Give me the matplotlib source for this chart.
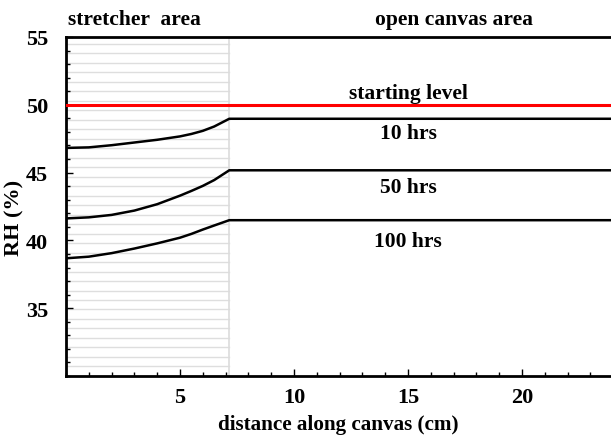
import numpy as np
import matplotlib
matplotlib.use("Agg")
import matplotlib.pyplot as plt
from matplotlib.ticker import MultipleLocator

# ---- data ----
x_stretch = [0.0, 1.0, 2.0, 3.0, 4.0, 5.0, 5.5, 6.0, 6.5, 7.16]
rh_10h = [46.82, 46.86, 47.02, 47.22, 47.42, 47.67, 47.85, 48.08, 48.40, 48.97]
rh_50h = [41.62, 41.70, 41.88, 42.20, 42.67, 43.30, 43.65, 44.02, 44.45, 45.17]
rh_100h = [38.68, 38.80, 39.06, 39.40, 39.78, 40.20, 40.48, 40.80, 41.10, 41.49]
x_end = 24.0
starting_level = 50.0
stretcher_edge = 7.16
series_labels = ["10 hrs", "50 hrs", "100 hrs"]
label_y = [47.9, 43.95, 39.95]

plt.rcParams['font.family'] = ['Liberation Serif', 'DejaVu Serif']
plt.rcParams['font.weight'] = 'bold'

fig = plt.figure(figsize=(6.11, 4.39), dpi=100)
ax = fig.add_axes([66/611, 62/439, 545/611, 339/439])
ax.set_xlim(0, 23.9)
ax.set_ylim(30, 55)

# stretcher hatch lines
for yy in np.arange(30.71, 54.6, 0.6994):
    ax.plot([0, stretcher_edge], [yy, yy], color='#dedede', lw=1.0, zorder=1)
ax.axvline(stretcher_edge, color='#dcdcdc', lw=1.2, zorder=1)

ax.plot([0, x_end], [starting_level, starting_level], color='#ff0000', lw=2.2, zorder=3)
for ys in (rh_10h, rh_50h, rh_100h):
    ax.plot(list(x_stretch) + [x_end], list(ys) + [ys[-1]], color='black', lw=1.8, zorder=3)

fs = 15.5
ax.text(15.0, 50.9, "starting level", ha='center', va='center', fontsize=fs, fontweight='bold')
for lab, yv in zip(series_labels, label_y):
    ax.text(15.0, yv, lab, ha='center', va='center', fontsize=fs, fontweight='bold')

ax.text(0.1, 56.3, "stretcher  area", ha='left', va='center', fontsize=fs, fontweight='bold')
ax.text(17.0, 56.3, "open canvas area", ha='center', va='center', fontsize=fs, fontweight='bold')

ax.spines['right'].set_visible(False)
for s in ('top', 'bottom', 'left'):
    ax.spines[s].set_linewidth(2.0)
    ax.spines[s].set_color('black')

ax.set_xticks([5, 10, 15, 20])
ax.set_yticks([35, 40, 45, 50, 55])
ax.xaxis.set_minor_locator(MultipleLocator(1))
ax.yaxis.set_minor_locator(MultipleLocator(1))
ax.tick_params(which='major', direction='in', length=5, width=1, labelsize=16, pad=8)
ax.tick_params(which='minor', direction='in', length=3, width=1)
ax.tick_params(axis='y', pad=13)
ax.tick_params(top=False, right=False, which='both')
for lbl in ax.get_xticklabels() + ax.get_yticklabels():
    lbl.set_fontweight('bold')

ax.set_xlabel("distance along canvas (cm)", fontsize=15.2, fontweight='bold')
ax.set_ylabel("RH (%)", fontsize=16, fontweight='bold')
ax.xaxis.set_label_coords(0.5, -0.112)
ax.yaxis.set_label_coords(-0.077, 0.47)

fig.savefig("out.png", dpi=100)
